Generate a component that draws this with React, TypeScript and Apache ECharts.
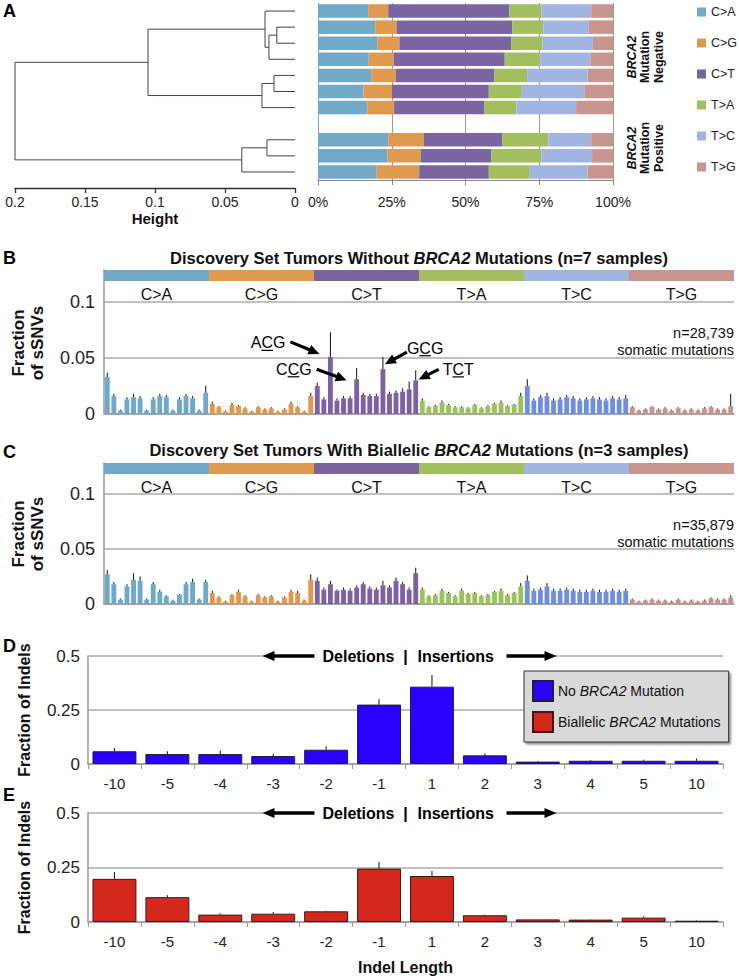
import React, { useEffect, useRef } from "react";
import * as echarts from "echarts";

const FONT = '"Liberation Sans", Arial, Helvetica, sans-serif';

// ---------------- Panel A ----------------
const mutationTypes = ["C>A", "C>G", "C>T", "T>A", "T>C", "T>G"];
const panelColors = ["#71a9c7", "#df9a50", "#7b65a1", "#a2be5f", "#a0b5df", "#c8968f"];
const snvBarColors = ["#6ea8cb", "#e3974b", "#7c62a3", "#9dc15b", "#6f8fdc", "#c9928d"];

const sampleRows = ["neg1", "neg2", "neg3", "neg4", "neg5", "neg6", "neg7", "gap", "pos1", "pos2", "pos3"];
const compCA = [17.0, 19.4, 20.2, 17.2, 18.0, 15.4, 16.8, null, 23.8, 23.6, 19.9];
const compCG = [6.8, 7.2, 7.4, 8.5, 8.4, 9.7, 9.0, null, 12.1, 11.2, 14.4];
const compCT = [41.1, 39.3, 37.9, 37.6, 33.4, 32.8, 30.5, null, 26.6, 23.9, 23.6];
const compTA = [10.8, 10.5, 10.6, 12.0, 11.1, 11.2, 10.9, null, 15.6, 17.0, 13.9];
const compTC = [16.9, 15.4, 17.1, 17.0, 20.5, 21.2, 20.3, null, 14.5, 17.2, 19.6];
const compTG = [7.4, 8.2, 6.8, 7.7, 8.6, 9.7, 12.5, null, 7.4, 7.1, 8.6];
const compositions = [compCA, compCG, compCT, compTA, compTC, compTG];

// dendrogram: leaves 0..9 sit on these rows; merges get ids 10, 11, ...
const dendroLeafRows = [0, 1, 2, 3, 4, 5, 6, 8, 9, 10];
const dendroMerges: [number, number, number][] = [
  [1, 2, 0.013],
  [10, 3, 0.0186],
  [0, 11, 0.0214],
  [4, 5, 0.015],
  [13, 6, 0.0236],
  [12, 14, 0.105],
  [7, 8, 0.02],
  [16, 9, 0.038],
  [15, 17, 0.2],
];

// ---------------- Panels B / C ----------------
const bases = ["A", "C", "G", "T"];
const sigWithoutBRCA2 = [
  0.033, 0.016, 0.003, 0.013, 0.015, 0.014, 0.003, 0.013, 0.016, 0.015, 0.003, 0.013, 0.016, 0.014, 0.003, 0.019,
  0.009, 0.006, 0.002, 0.008, 0.007, 0.005, 0.002, 0.006, 0.004, 0.005, 0.002, 0.004, 0.009, 0.006, 0.002, 0.016,
  0.025, 0.013, 0.051, 0.012, 0.014, 0.014, 0.031, 0.017, 0.016, 0.016, 0.040, 0.018, 0.019, 0.020, 0.022, 0.030,
  0.012, 0.006, 0.007, 0.010, 0.008, 0.006, 0.006, 0.005, 0.008, 0.005, 0.007, 0.009, 0.010, 0.007, 0.008, 0.016,
  0.025, 0.012, 0.015, 0.016, 0.012, 0.013, 0.015, 0.014, 0.012, 0.013, 0.014, 0.013, 0.012, 0.014, 0.013, 0.014,
  0.006, 0.003, 0.004, 0.006, 0.004, 0.005, 0.003, 0.005, 0.003, 0.004, 0.003, 0.005, 0.006, 0.004, 0.004, 0.007,
];
const errWithoutBRCA2 = [
  0.004, 0.002, 0.001, 0.002, 0.003, 0.002, 0.001, 0.002, 0.002, 0.002, 0.001, 0.002, 0.002, 0.002, 0.001, 0.006,
  0.002, 0.001, 0.001, 0.002, 0.001, 0.001, 0.001, 0.001, 0.001, 0.001, 0.001, 0.001, 0.002, 0.001, 0.001, 0.003,
  0.003, 0.002, 0.022, 0.002, 0.002, 0.002, 0.010, 0.002, 0.002, 0.002, 0.011, 0.002, 0.002, 0.003, 0.007, 0.009,
  0.002, 0.001, 0.001, 0.002, 0.001, 0.001, 0.001, 0.001, 0.001, 0.001, 0.001, 0.001, 0.002, 0.001, 0.001, 0.003,
  0.006, 0.002, 0.002, 0.003, 0.002, 0.002, 0.002, 0.002, 0.002, 0.002, 0.002, 0.002, 0.002, 0.002, 0.002, 0.003,
  0.001, 0.001, 0.001, 0.001, 0.001, 0.001, 0.001, 0.001, 0.001, 0.001, 0.001, 0.001, 0.001, 0.001, 0.001, 0.011,
];
const sigBiallelicBRCA2 = [
  0.027, 0.018, 0.004, 0.016, 0.022, 0.021, 0.004, 0.018, 0.011, 0.007, 0.003, 0.008, 0.018, 0.020, 0.004, 0.020,
  0.010, 0.006, 0.002, 0.008, 0.011, 0.007, 0.002, 0.008, 0.006, 0.007, 0.002, 0.006, 0.011, 0.010, 0.003, 0.022,
  0.021, 0.013, 0.018, 0.012, 0.013, 0.012, 0.015, 0.018, 0.014, 0.013, 0.017, 0.015, 0.021, 0.018, 0.013, 0.028,
  0.013, 0.007, 0.008, 0.012, 0.010, 0.007, 0.012, 0.009, 0.010, 0.007, 0.008, 0.011, 0.012, 0.008, 0.010, 0.016,
  0.021, 0.012, 0.013, 0.016, 0.012, 0.012, 0.013, 0.012, 0.011, 0.011, 0.012, 0.011, 0.011, 0.012, 0.011, 0.012,
  0.004, 0.002, 0.003, 0.004, 0.003, 0.003, 0.002, 0.004, 0.002, 0.003, 0.002, 0.003, 0.005, 0.004, 0.004, 0.006,
];
const errBiallelicBRCA2 = [
  0.004, 0.002, 0.001, 0.002, 0.006, 0.004, 0.001, 0.002, 0.002, 0.001, 0.001, 0.001, 0.002, 0.003, 0.001, 0.002,
  0.002, 0.001, 0.001, 0.001, 0.002, 0.001, 0.001, 0.001, 0.001, 0.001, 0.001, 0.001, 0.002, 0.002, 0.001, 0.005,
  0.003, 0.002, 0.003, 0.001, 0.002, 0.002, 0.002, 0.002, 0.002, 0.002, 0.004, 0.002, 0.003, 0.002, 0.002, 0.005,
  0.002, 0.001, 0.001, 0.002, 0.001, 0.001, 0.002, 0.001, 0.001, 0.001, 0.001, 0.001, 0.002, 0.001, 0.001, 0.003,
  0.005, 0.002, 0.002, 0.003, 0.002, 0.002, 0.002, 0.002, 0.002, 0.002, 0.002, 0.002, 0.002, 0.002, 0.002, 0.002,
  0.001, 0.001, 0.001, 0.001, 0.001, 0.001, 0.001, 0.001, 0.001, 0.001, 0.001, 0.001, 0.001, 0.001, 0.001, 0.002,
];
const snvAnnotations = [
  { label: "ACG", index: 34, side: "left", tdx: -45, tdy: -14, tail: [-40, -15], tip: [-11, -3] },
  { label: "CCG", index: 38, side: "left", tdx: -45, tdy: -10, tail: [-40, -10], tip: [-10, 1] },
  { label: "GCG", index: 42, side: "right", tdx: 24, tdy: -21, tail: [24, -17], tip: [2, -5] },
  { label: "TCT", index: 47, side: "right", tdx: 27, tdy: -11, tail: [23, -11], tip: [3, -1] },
];

// ---------------- Panels D / E ----------------
const indelLengths = ["-10", "-5", "-4", "-3", "-2", "-1", "1", "2", "3", "4", "5", "10"];
const indelNoBRCA2 = [0.059, 0.046, 0.046, 0.037, 0.066, 0.275, 0.358, 0.04, 0.011, 0.015, 0.015, 0.015];
const indelNoBRCA2Err = [0.074, 0.059, 0.062, 0.046, 0.082, 0.3, 0.412, 0.049, 0.014, 0.018, 0.02, 0.025];
const indelBiallelic = [0.198, 0.114, 0.034, 0.038, 0.049, 0.245, 0.211, 0.031, 0.012, 0.011, 0.02, 0.006];
const indelBiallelicErr = [0.229, 0.123, 0.04, 0.046, 0.052, 0.275, 0.234, 0.033, 0.013, 0.012, 0.026, 0.008];

const contextNames: string[] = [];
mutationTypes.forEach((t) => {
  bases.forEach((l) => bases.forEach((r) => contextNames.push(`${l}${t[0]}${r} ${t}`)));
});

const errorRender = (_params: any, api: any) => {
  const i = api.value(0);
  const a = api.coord([i, api.value(1)]);
  const b = api.coord([i, api.value(2)]);
  return {
    type: "line",
    shape: { x1: a[0], y1: a[1], x2: b[0], y2: b[1] },
    style: { stroke: "#111", lineWidth: 1 },
  };
};

const GRAY_AXIS = "#9a9a9a";
const GRID_LINE = "#ababab";

function snvAxes(grid: number, bandGrid: number, bandMax: number) {
  return {
    x: [
      { gridIndex: bandGrid, type: "category", data: mutationTypes, show: false },
      {
        gridIndex: grid,
        type: "category",
        data: contextNames,
        axisLine: { show: true, onZero: false, lineStyle: { color: GRAY_AXIS, width: 1.5 } },
        axisTick: { show: false },
        axisLabel: { show: false },
      },
    ],
    y: [
      {
        gridIndex: bandGrid,
        type: "value",
        min: 0,
        max: bandMax,
        inverse: true,
        axisLine: { show: true, onZero: false, lineStyle: { color: GRAY_AXIS, width: 1.5 } },
        axisTick: { show: false },
        axisLabel: { show: false },
        splitLine: { show: false },
      },
      {
        gridIndex: grid,
        type: "value",
        min: 0,
        max: 0.1,
        interval: 0.05,
        axisLine: { show: true, onZero: false, lineStyle: { color: GRAY_AXIS, width: 1.5 } },
        axisTick: { show: false },
        axisLabel: { fontSize: 18, color: "#222", margin: 9 },
        splitLine: { show: true, lineStyle: { color: GRID_LINE, width: 1.5 } },
      },
    ],
  };
}

function snvSeries(bandAxis: number, barAxis: number, values: number[], errs: number[], key: string) {
  return [
    {
      type: "bar",
      name: "band" + key,
      xAxisIndex: bandAxis,
      yAxisIndex: bandAxis,
      barWidth: "100%",
      silent: true,
      data: mutationTypes.map((t, i) => ({ value: 1, name: t, itemStyle: { color: panelColors[i] } })),
      label: { show: true, position: "bottom", distance: 5, formatter: "{b}", fontSize: 16, color: "#111" },
    },
    {
      type: "bar",
      name: "snv" + key,
      xAxisIndex: barAxis,
      yAxisIndex: barAxis,
      barCategoryGap: "26%",
      silent: true,
      data: values.map((v, i) => ({ value: v, itemStyle: { color: snvBarColors[Math.floor(i / 16)] } })),
    },
    {
      type: "custom",
      name: "err" + key,
      xAxisIndex: barAxis,
      yAxisIndex: barAxis,
      silent: true,
      z: 5,
      renderItem: errorRender,
      data: values.map((v, i) => [i, v, v + errs[i]]),
    },
  ];
}

function indelAxes(grid: number, withName: boolean) {
  const x: any = {
    gridIndex: grid,
    type: "category",
    data: indelLengths,
    axisLine: { show: true, onZero: false, lineStyle: { color: GRAY_AXIS, width: 1.5 } },
    axisTick: { show: true, length: 5, lineStyle: { color: GRAY_AXIS } },
    axisLabel: { fontSize: 15, color: "#222", margin: 12 },
  };
  if (withName) {
    x.name = "Indel Length";
    x.nameLocation = "middle";
    x.nameGap = 37;
    x.nameTextStyle = { fontWeight: "bold", fontSize: 16, color: "#111" };
  }
  const y = {
    gridIndex: grid,
    type: "value",
    min: 0,
    max: 0.5,
    interval: 0.25,
    axisLine: { show: true, onZero: false, lineStyle: { color: GRAY_AXIS, width: 1.5 } },
    axisTick: { show: false },
    axisLabel: { fontSize: 17, color: "#222", margin: 8 },
    splitLine: { show: true, lineStyle: { color: GRID_LINE, width: 1.5 } },
    name: "Fraction of Indels",
    nameLocation: "middle",
    nameRotate: 90,
    nameGap: 56,
    nameTextStyle: { fontWeight: "bold", fontSize: 16, color: "#111" },
  };
  return { x, y };
}

function buildOption() {
  const b = snvAxes(3, 2, 2.9);
  const c = snvAxes(5, 4, 2.8);
  const d = indelAxes(6, false);
  const e = indelAxes(7, true);

  const nodes: { h: number; y: number }[] = dendroLeafRows.map((r) => ({ h: 0, y: r + 0.5 }));
  const dendroLines = dendroMerges.map(([a, bb, h]) => {
    const na = nodes[a];
    const nb = nodes[bb];
    nodes.push({ h, y: (na.y + nb.y) / 2 });
    return { coords: [[na.h, na.y], [h, na.y], [h, nb.y], [nb.h, nb.y]] };
  });

  return {
    animation: false,
    textStyle: { fontFamily: FONT },
    grid: [
      { left: 15, top: 3, width: 280, height: 177 },
      { left: 318, top: 3, width: 295, height: 177 },
      { left: 104, right: 5, top: 270, height: 32 },
      { left: 104, right: 5, top: 302, height: 112 },
      { left: 104, right: 5, top: 463, height: 31 },
      { left: 104, right: 5, top: 494, height: 110 },
      { left: 88, right: 16, top: 656, height: 108 },
      { left: 88, right: 16, top: 813, height: 109 },
    ],
    xAxis: [
      {
        gridIndex: 0,
        type: "value",
        min: 0,
        max: 0.2,
        interval: 0.05,
        inverse: true,
        offset: 8,
        axisLine: { show: true, onZero: false, lineStyle: { color: "#333", width: 1.3 } },
        axisTick: { show: true, length: 5, lineStyle: { color: "#333", width: 1.3 } },
        axisLabel: { fontSize: 14, color: "#222", margin: 7 },
        splitLine: { show: false },
        name: "Height",
        nameLocation: "middle",
        nameGap: 23,
        nameTextStyle: { fontWeight: "bold", fontSize: 15, color: "#111" },
      },
      {
        gridIndex: 1,
        type: "value",
        min: 0,
        max: 100,
        interval: 25,
        axisLine: { show: true, onZero: false, lineStyle: { color: "#888" } },
        axisTick: { show: true, length: 5, lineStyle: { color: "#888" } },
        axisLabel: { formatter: "{value}%", fontSize: 14, color: "#222", margin: 15 },
        splitLine: { show: true, lineStyle: { color: "#999", width: 1 } },
      },
      ...b.x,
      ...c.x,
      d.x,
      e.x,
    ],
    yAxis: [
      { gridIndex: 0, type: "value", min: 0, max: 11, inverse: true, show: false },
      {
        gridIndex: 1,
        type: "category",
        data: sampleRows,
        inverse: true,
        axisLine: { show: false },
        axisTick: { show: false },
        axisLabel: { show: false },
      },
      ...b.y,
      ...c.y,
      d.y,
      e.y,
    ],
    legend: [
      {
        data: mutationTypes,
        orient: "vertical",
        left: 697,
        top: 5,
        padding: 0,
        itemWidth: 9,
        itemHeight: 9,
        itemGap: 17,
        icon: "rect",
        selectedMode: false,
        textStyle: { fontSize: 12.5, color: "#222", lineHeight: 14 },
      },
      {
        data: ["No BRCA2 Mutation", "Biallelic BRCA2 Mutations"],
        orient: "vertical",
        left: 524,
        top: 671,
        padding: [9, 8, 9, 8],
        itemWidth: 20,
        itemHeight: 20,
        itemGap: 9,
        icon: "rect",
        selectedMode: false,
        backgroundColor: "#d9d9d9",
        borderColor: "#333",
        borderWidth: 1,
        shadowColor: "rgba(0,0,0,0.45)",
        shadowBlur: 2,
        shadowOffsetX: 2,
        shadowOffsetY: 2,
        formatter: (n: string) => n.replace("BRCA2", "{i|BRCA2}"),
        textStyle: {
          fontSize: 14,
          color: "#111",
          rich: { i: { fontStyle: "italic", fontSize: 14, color: "#111" } },
        },
      },
    ],
    series: [
      {
        type: "lines",
        coordinateSystem: "cartesian2d",
        xAxisIndex: 0,
        yAxisIndex: 0,
        polyline: true,
        silent: true,
        lineStyle: { color: "#444", width: 1, opacity: 1 },
        data: dendroLines,
      },
      ...mutationTypes.map((t, k) => ({
        type: "bar",
        name: t,
        stack: "comp",
        xAxisIndex: 1,
        yAxisIndex: 1,
        barCategoryGap: "16%",
        silent: true,
        itemStyle: { color: panelColors[k] },
        data: compositions[k].map((v) => (v === null ? "-" : v)),
      })),
      ...snvSeries(2, 3, sigWithoutBRCA2, errWithoutBRCA2, "B"),
      ...snvSeries(4, 5, sigBiallelicBRCA2, errBiallelicBRCA2, "C"),
      {
        type: "bar",
        name: "No BRCA2 Mutation",
        xAxisIndex: 6,
        yAxisIndex: 6,
        barCategoryGap: "17%",
        silent: true,
        itemStyle: { color: "#2a00ff", borderColor: "#1d1d40", borderWidth: 1 },
        data: indelNoBRCA2,
      },
      {
        type: "custom",
        xAxisIndex: 6,
        yAxisIndex: 6,
        silent: true,
        z: 5,
        renderItem: errorRender,
        data: indelNoBRCA2.map((v, i) => [i, v, indelNoBRCA2Err[i]]),
      },
      {
        type: "bar",
        name: "Biallelic BRCA2 Mutations",
        xAxisIndex: 7,
        yAxisIndex: 7,
        barCategoryGap: "17%",
        silent: true,
        itemStyle: { color: "#d5281c", borderColor: "#3a1a1a", borderWidth: 1 },
        data: indelBiallelic,
      },
      {
        type: "custom",
        xAxisIndex: 7,
        yAxisIndex: 7,
        silent: true,
        z: 5,
        renderItem: errorRender,
        data: indelBiallelic.map((v, i) => [i, v, indelBiallelicErr[i]]),
      },
    ],
  };
}

let measureCtx: CanvasRenderingContext2D | null = null;
function measure(s: string, font: string) {
  if (!measureCtx) measureCtx = document.createElement("canvas").getContext("2d");
  if (!measureCtx) return s.length * 9;
  measureCtx.font = font;
  return measureCtx.measureText(s).width;
}

function arrowEls(x1: number, y1: number, x2: number, y2: number, w = 3.2, hl = 11, hw = 10) {
  const dx = x2 - x1;
  const dy = y2 - y1;
  const len = Math.hypot(dx, dy) || 1;
  const ux = dx / len;
  const uy = dy / len;
  const bx = x2 - ux * hl;
  const by = y2 - uy * hl;
  const nx = -uy;
  const ny = ux;
  return [
    { type: "line", z: 100, shape: { x1, y1, x2: bx + ux, y2: by + uy }, style: { stroke: "#000", lineWidth: w } },
    {
      type: "polygon",
      z: 100,
      shape: { points: [[x2, y2], [bx + (nx * hw) / 2, by + (ny * hw) / 2], [bx - (nx * hw) / 2, by - (ny * hw) / 2]] },
      style: { fill: "#000" },
    },
  ];
}

function txt(text: string, x: number, y: number, o: any = {}) {
  return {
    type: "text",
    z: 100,
    x,
    y,
    rotation: o.rotation || 0,
    style: {
      text,
      fontFamily: FONT,
      fontSize: o.fontSize || 14,
      fontWeight: o.fontWeight || "normal",
      fontStyle: o.fontStyle || "normal",
      fill: o.fill || "#111",
      align: o.align || "left",
      verticalAlign: o.verticalAlign || "middle",
      lineHeight: o.lineHeight,
      rich: o.rich,
    },
  };
}

function buildGraphics(chart: any) {
  const els: any[] = [];
  const px = (grid: number, x: number, y: number) => chart.convertToPixel({ gridIndex: grid }, [x, y]) as number[];

  // panel letters
  [["A", 2], ["B", 249], ["C", 443], ["D", 637], ["E", 786]].forEach(([l, y]) =>
    els.push(txt(l as string, 3, y as number, { fontSize: 18, fontWeight: "bold", verticalAlign: "top", fill: "#000" }))
  );

  // Panel A rotated group labels
  const richA = {
    i: { fontStyle: "italic", fontWeight: "bold", fontSize: 12.5, lineHeight: 13.5, fontFamily: FONT, fill: "#111", color: "#111" },
    b: { fontWeight: "bold", fontSize: 12.5, lineHeight: 13.5, fontFamily: FONT, fill: "#111", color: "#111" },
  };
  els.push(txt("{i|BRCA2}\n{b|Mutation}\n{b|Negative}", 645, 57, { rotation: Math.PI / 2, align: "center", rich: richA }));
  els.push(txt("{i|BRCA2}\n{b|Mutation}\n{b|Positive}", 645, 148, { rotation: Math.PI / 2, align: "center", rich: richA }));

  // Panels B / C
  const panels = [
    { grid: 3, title: "Without ", titleEnd: " Mutations (n=7 samples)", n: "n=28,739", values: sigWithoutBRCA2, ann: true },
    { grid: 5, title: "With Biallelic ", titleEnd: " Mutations (n=3 samples)", n: "n=35,879", values: sigBiallelicBRCA2, ann: false },
  ];
  panels.forEach((p) => {
    const top = px(p.grid, 0, 0.1)[1];
    const bottom = px(p.grid, 0, 0)[1];
    const left = px(p.grid, 0, 0)[0] - 3.3;
    const right = 734;
    const cx = (left + right) / 2;
    const rich = {
      b: { fontWeight: "bold", fontSize: 16.5, fontFamily: FONT, fill: "#111", color: "#111" },
      bi: { fontWeight: "bold", fontStyle: "italic", fontSize: 16.5, fontFamily: FONT, fill: "#111", color: "#111" },
    };
    els.push(
      txt(`{b|Discovery Set Tumors ${p.title}}{bi|BRCA2}{b|${p.titleEnd}}`, cx, top - 44, { align: "center", rich })
    );
    els.push(
      txt("Fraction\nof sSNVs", 28, (top + bottom) / 2 - 15, {
        rotation: Math.PI / 2,
        align: "center",
        fontSize: 17,
        fontWeight: "bold",
        lineHeight: 19,
      })
    );
    els.push(txt(p.n, right, top + 31, { align: "right", fontSize: 14.5 }));
    els.push(txt("somatic mutations", right, top + 48, { align: "right", fontSize: 14.5 }));

    if (p.ann) {
      const font = `16px ${FONT}`;
      snvAnnotations.forEach((a) => {
        const [bx, by] = px(p.grid, a.index, p.values[a.index]);
        const w = measure(a.label, font);
        const w1 = measure(a.label.slice(0, 1), font);
        const w2 = measure(a.label.slice(0, 2), font);
        const x0 = a.side === "left" ? bx + a.tdx - w : bx + a.tdx;
        const ty = by + a.tdy;
        els.push(txt(a.label, x0, ty, { fontSize: 16, fill: "#000" }));
        els.push({
          type: "line",
          z: 100,
          shape: { x1: x0 + w1, y1: ty + 7.5, x2: x0 + w2, y2: ty + 7.5 },
          style: { stroke: "#000", lineWidth: 1.2 },
        });
        els.push(...arrowEls(bx + a.tail[0], by + a.tail[1], bx + a.tip[0], by + a.tip[1]));
      });
    }
  });

  // Panels D / E deletion / insertion header
  [6, 7].forEach((g) => {
    const y = px(g, 0, 0.5)[1];
    const xb = (px(g, 5, 0)[0] + px(g, 6, 0)[0]) / 2;
    els.push({ type: "rect", z: 99, shape: { x: xb - 92, y: y - 3, width: 194, height: 6 }, style: { fill: "#fff" } });
    els.push(txt("Deletions", xb - 11, y, { align: "right", fontSize: 16, fontWeight: "bold", fill: "#000" }));
    els.push(txt("|", xb, y, { align: "center", fontSize: 16, fontWeight: "bold", fill: "#000" }));
    els.push(txt("Insertions", xb + 12, y, { align: "left", fontSize: 16, fontWeight: "bold", fill: "#000" }));
    els.push(...arrowEls(xb - 91, y, xb - 143, y, 3.4, 12, 10));
    els.push(...arrowEls(xb + 101, y, xb + 151, y, 3.4, 12, 10));
  });

  return els;
}

export default function App() {
  const ref = useRef<HTMLDivElement>(null);
  useEffect(() => {
    document.body.style.margin = "0";
    if (!ref.current) return;
    const chart = echarts.init(ref.current, undefined, { renderer: "svg" });
    chart.setOption(buildOption() as any);
    chart.setOption({ graphic: { elements: buildGraphics(chart) } } as any);
    return () => chart.dispose();
  }, []);
  return <div ref={ref} style={{ width: 739, height: 978, position: "absolute", left: 0, top: 0 }} />;
}
